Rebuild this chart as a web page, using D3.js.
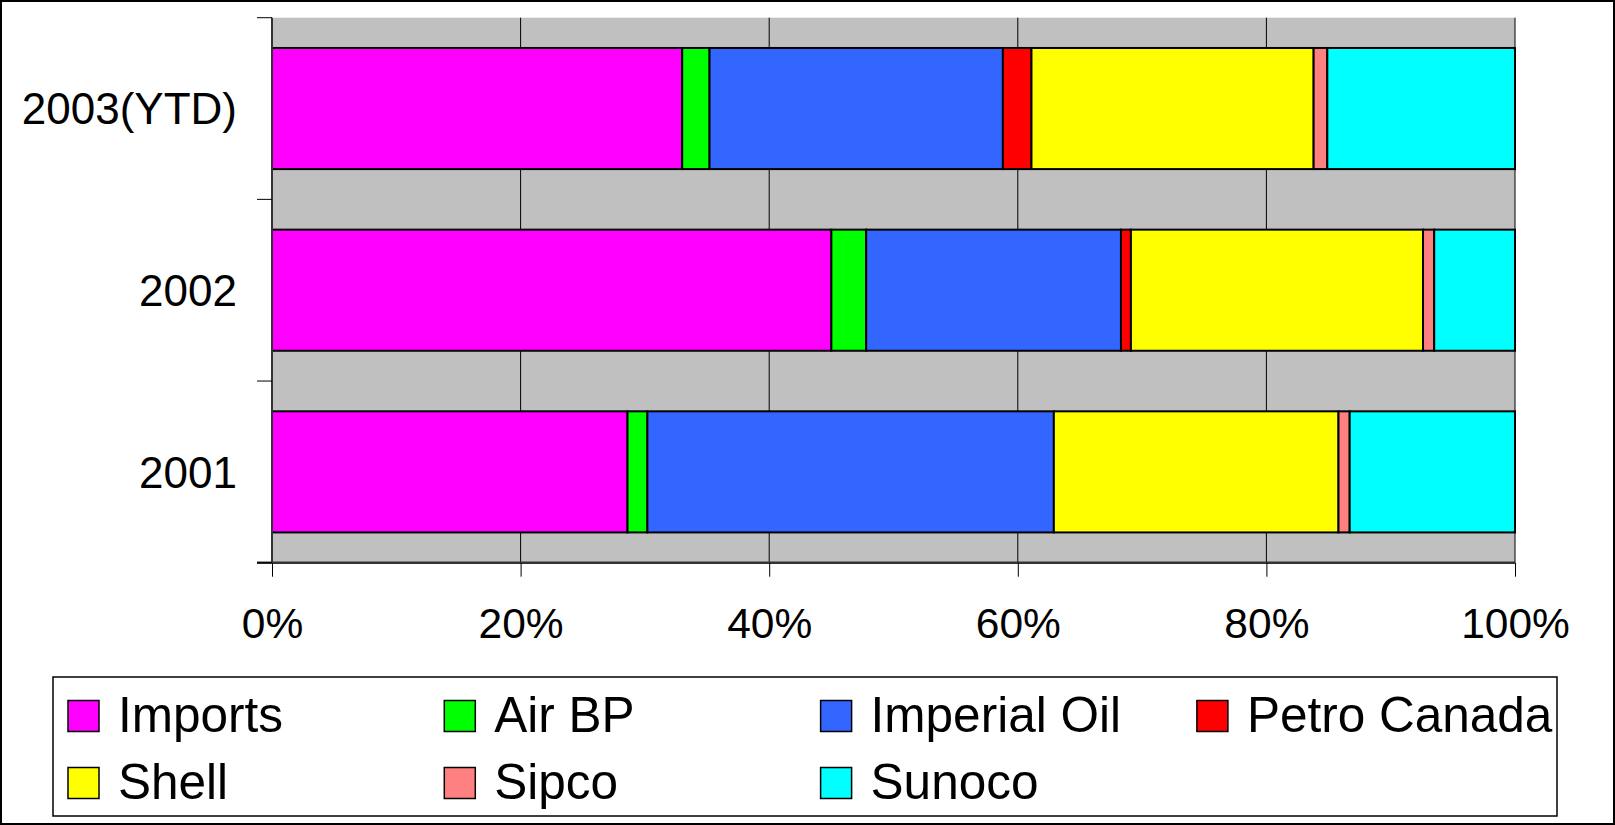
<!DOCTYPE html>
<html>
<head>
<meta charset="utf-8">
<script src="https://cdn.jsdelivr.net/npm/d3@7"></script>
<style>
  body { margin: 0; background: #fff; }
  text { font-family: "Liberation Sans", Arial, sans-serif; fill: #000; }
</style>
</head>
<body>
<div id="chart"></div>
<script>
// categories, top to bottom
var years = ["2003(YTD)", "2002", "2001"];

var suppliers = ["Imports", "Air BP", "Imperial Oil", "Petro Canada", "Shell", "Sipco", "Sunoco"];
var colors = ["#FF00FF", "#00FF00", "#3366FF", "#FF0000", "#FFFF00", "#FF8080", "#00FFFF"];

// share per year (%), same order as years
var imports     = [33.0, 45.0, 28.6];
var airBP       = [2.2, 2.8, 1.6];
var imperialOil = [23.6, 20.5, 32.7];
var petroCanada = [2.3, 0.8, 0.0];
var shell       = [22.7, 23.5, 22.9];
var sipco       = [1.1, 0.9, 0.9];
var sunoco      = [15.1, 6.5, 13.3];

var xTicks = [0, 20, 40, 60, 80, 100];

var series = [imports, airBP, imperialOil, petroCanada, shell, sipco, sunoco];

var table = years.map(function(y, i) {
  var row = { year: y };
  suppliers.forEach(function(s, j) { row[s] = series[j][i]; });
  return row;
});

var W = 1615, H = 825;
var margin = { top: 17.7, right: 100, bottom: 262.3, left: 272 },
  width  = W - margin.left - margin.right,
  height = H - margin.top - margin.bottom;

var svg0 = d3.select("#chart").append("svg")
  .attr("width", W)
  .attr("height", H);

// outer border
svg0.append("rect")
  .attr("x", 1).attr("y", 1)
  .attr("width", W - 2).attr("height", H - 2)
  .attr("fill", "none")
  .attr("stroke", "#000")
  .attr("stroke-width", 2);

var svg = svg0.append("g")
  .attr("transform", "translate(" + margin.left + "," + margin.top + ")");

var x = d3.scaleLinear()
  .domain([0, 100])
  .range([0, width]);

var y = d3.scaleBand()
  .domain(years)
  .range([0, height])
  .paddingInner(1 / 3)
  .paddingOuter(1 / 6);

var stack = d3.stack().keys(suppliers)(table);

// plot background
svg.append("rect")
  .attr("width", width)
  .attr("height", height)
  .attr("fill", "#C0C0C0");

// vertical gridlines
svg.selectAll(".grid")
  .data(xTicks.slice(1))
  .enter().append("line")
  .attr("x1", function(d) { return x(d); })
  .attr("x2", function(d) { return x(d); })
  .attr("y1", 0)
  .attr("y2", height)
  .attr("stroke", "#000")
  .attr("stroke-width", 1);

// bars
svg.selectAll(".layer")
  .data(stack)
  .enter().append("g")
  .attr("fill", function(d, i) { return colors[i]; })
  .selectAll("rect")
  .data(function(d) { return d.filter(function(p) { return p[1] - p[0] > 0; }); })
  .enter().append("rect")
  .attr("x", function(d) { return x(d[0]); })
  .attr("width", function(d) { return x(d[1]) - x(d[0]); })
  .attr("y", function(d) { return y(d.data.year); })
  .attr("height", y.bandwidth())
  .attr("stroke", "#000")
  .attr("stroke-width", 2);

// x axis
var xAxis = svg.append("g")
  .attr("transform", "translate(0," + height + ")")
  .call(d3.axisBottom(x)
    .tickValues(xTicks)
    .tickSize(14)
    .tickPadding(23)
    .tickFormat(function(d) { return d + "%"; }));
xAxis.select(".domain").attr("stroke", "#333").attr("stroke-width", 2.5)
  .attr("d", "M-15,0H" + width);
xAxis.selectAll(".tick line").attr("stroke", "#000");
xAxis.selectAll("text")
  .style("font-size", "42.5px")
  .attr("dy", "0.9em");

// y axis: ticks on band edges
var step = y.step();
var edges = [0, 1, 2, 3].map(function(i) { return y.range()[0] + i * step; });
svg.append("line")
  .attr("x1", 0).attr("x2", 0)
  .attr("y1", 0).attr("y2", height)
  .attr("stroke", "#333")
  .attr("stroke-width", 2);
svg.selectAll(".ytick")
  .data(edges)
  .enter().append("line")
  .attr("x1", -15).attr("x2", 0)
  .attr("y1", function(d) { return d; })
  .attr("y2", function(d) { return d; })
  .attr("stroke", "#000");

svg.selectAll(".ylabel")
  .data(years)
  .enter().append("text")
  .attr("x", -35)
  .attr("y", function(d) { return y(d) + y.bandwidth() / 2; })
  .attr("dy", "0.36em")
  .style("text-anchor", "end")
  .style("font-size", "44px")
  .text(function(d) { return d; });

// legend
var legend = svg0.append("g");
legend.append("rect")
  .attr("x", 53).attr("y", 677)
  .attr("width", 1504).attr("height", 139)
  .attr("fill", "#fff")
  .attr("stroke", "#000")
  .attr("stroke-width", 1.5);

var item = legend.selectAll(".item")
  .data(suppliers)
  .enter().append("g")
  .attr("transform", function(d, i) {
    return "translate(" + (68 + (i % 4) * 376.3) + "," + (700.5 + Math.floor(i / 4) * 67) + ")";
  });
item.append("rect")
  .attr("width", 31).attr("height", 31)
  .attr("fill", function(d, i) { return colors[i]; })
  .attr("stroke", "#000")
  .attr("stroke-width", 1.5);
item.append("text")
  .attr("x", 50)
  .attr("y", 31)
  .style("font-size", "49.5px")
  .text(function(d) { return d; });
</script>
</body>
</html>
